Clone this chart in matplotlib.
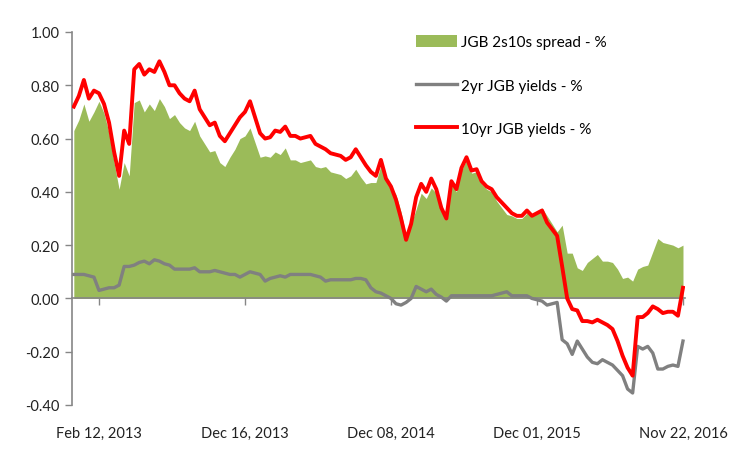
import matplotlib
matplotlib.use("Agg")
import matplotlib.pyplot as plt
from matplotlib.patches import Patch
from matplotlib.lines import Line2D

# Tick labels (category axis) and their positions in the series index
tick_labels = ["Feb 12, 2013", "Dec 16, 2013", "Dec 08, 2014", "Dec 01, 2015", "Nov 22, 2016"]
tick_index = [5, 34, 63, 92, 121]

# 10yr JGB yields (%), roughly weekly samples
ten = [0.72, 0.76, 0.82, 0.75, 0.78, 0.77, 0.73, 0.66, 0.55, 0.46,
       0.63, 0.58, 0.86, 0.88, 0.84, 0.86, 0.85, 0.89, 0.85, 0.80,
       0.80, 0.77, 0.75, 0.74, 0.78, 0.71, 0.68, 0.65, 0.66, 0.61,
       0.59, 0.62, 0.65, 0.68, 0.70, 0.74, 0.68, 0.62, 0.60, 0.605,
       0.63, 0.625, 0.645, 0.61, 0.61, 0.60, 0.605, 0.61, 0.58, 0.57,
       0.56, 0.545, 0.54, 0.535, 0.52, 0.53, 0.56, 0.53, 0.50, 0.475,
       0.46, 0.52, 0.45, 0.42, 0.37, 0.30, 0.22, 0.28, 0.38, 0.43,
       0.40, 0.45, 0.41, 0.34, 0.30, 0.44, 0.41, 0.49, 0.53, 0.48,
       0.485, 0.44, 0.42, 0.41, 0.38, 0.36, 0.34, 0.32, 0.31, 0.31,
       0.33, 0.31, 0.32, 0.33, 0.285, 0.26, 0.235, 0.12, 0.00, -0.04,
       -0.045, -0.085, -0.085, -0.09, -0.08, -0.09, -0.10, -0.115, -0.16, -0.215,
       -0.26, -0.29, -0.07, -0.07, -0.055, -0.03, -0.04, -0.055, -0.05, -0.05,
       -0.065, 0.04]

# 2yr JGB yields (%)
two = [0.09, 0.09, 0.09, 0.085, 0.08, 0.03, 0.035, 0.04, 0.04, 0.05,
       0.12, 0.12, 0.125, 0.135, 0.14, 0.13, 0.145, 0.14, 0.13, 0.125,
       0.11, 0.11, 0.11, 0.11, 0.115, 0.10, 0.10, 0.10, 0.105, 0.10,
       0.095, 0.09, 0.09, 0.08, 0.09, 0.10, 0.095, 0.09, 0.065, 0.075,
       0.08, 0.085, 0.08, 0.09, 0.09, 0.09, 0.09, 0.09, 0.085, 0.08,
       0.065, 0.07, 0.07, 0.07, 0.07, 0.07, 0.075, 0.075, 0.07, 0.04,
       0.025, 0.02, 0.01, 0.0, -0.02, -0.025, -0.015, 0.0, 0.045, 0.035,
       0.025, 0.035, 0.015, 0.005, -0.01, 0.01, 0.01, 0.01, 0.01, 0.01,
       0.01, 0.01, 0.01, 0.01, 0.015, 0.02, 0.025, 0.01, 0.01, 0.01,
       0.01, 0.0, -0.005, -0.01, -0.025, -0.02, -0.015, -0.155, -0.17, -0.21,
       -0.16, -0.19, -0.22, -0.24, -0.245, -0.23, -0.24, -0.25, -0.27, -0.29,
       -0.34, -0.355, -0.18, -0.19, -0.18, -0.205, -0.265, -0.265, -0.255, -0.25,
       -0.255, -0.16]

# 2s10s spread = 10yr - 2yr
spread = [t - w for t, w in zip(ten, two)]
idx = list(range(len(ten)))

GREEN = "#9BBB59"
RED = "#FF0000"
GREY = "#808080"
AXIS = "#868686"

plt.rcParams['font.family'] = ['Lato', 'DejaVu Sans']

fig = plt.figure(figsize=(7.52, 4.52), dpi=100)
ax = fig.add_axes([72/752, 1 - 406/452, (685-72)/752, (406-33)/452])

ax.fill_between(idx, 0, spread, color=GREEN, linewidth=0, zorder=1)
ax.plot(idx, two, color=GREY, linewidth=2.4, zorder=3)
ax.plot(idx, ten, color=RED, linewidth=2.8, zorder=4)

ax.set_ylim(-0.40, 1.00)
ax.set_xlim(-0.36, 121.4)
ax.set_yticks([-0.4, -0.2, 0.0, 0.2, 0.4, 0.6, 0.8, 1.0])
ax.set_yticklabels([f"{v:.2f}" for v in [-0.4, -0.2, 0.0, 0.2, 0.4, 0.6, 0.8, 1.0]])
ax.set_xticks(tick_index)
ax.set_xticklabels(tick_labels)

for s in ["top", "right"]:
    ax.spines[s].set_visible(False)
ax.spines["left"].set_color(AXIS)
ax.spines["left"].set_linewidth(1.2)
ax.spines["bottom"].set_position(("data", 0))
ax.spines["bottom"].set_color(AXIS)
ax.spines["bottom"].set_linewidth(1.2)
ax.spines["bottom"].set_zorder(2)

ax.tick_params(axis="y", direction="out", length=5, width=1, color=AXIS,
               labelsize=10.5, labelcolor="#222222", pad=4)
ax.tick_params(axis="x", direction="out", length=5, width=1, color=AXIS,
               labelsize=10.5, labelcolor="#222222", pad=87)

handles = [Patch(facecolor=GREEN, edgecolor="none"),
           Line2D([], [], color=GREY, linewidth=2.4),
           Line2D([], [], color=RED, linewidth=2.8)]
labels = ["JGB 2s10s spread - %", "2yr JGB yields - %", "10yr JGB yields - %"]
fig.legend(handles, labels, loc="upper left", bbox_to_anchor=(404/752, 1 - 24/452),
           frameon=False, fontsize=11, handlelength=2.7, handleheight=0.8,
           handletextpad=0.2, labelspacing=1.9, borderpad=0.3)

fig.savefig("out.png", dpi=100, facecolor="white")
